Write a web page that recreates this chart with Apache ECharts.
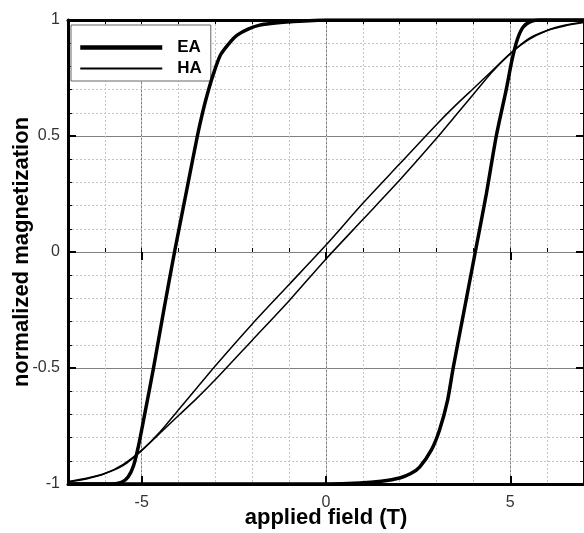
<!DOCTYPE html>
<html>
<head>
<meta charset="utf-8">
<script src="https://cdn.jsdelivr.net/npm/echarts@6/dist/echarts.min.js"></script>
<style>
  html, body { margin: 0; padding: 0; background: #fff; }
  #chart { width: 584px; height: 533px; }
</style>
</head>
<body>
<div id="chart"></div>
<script>
// easy axis loop, field going down then up
const eaDownField = [7, 0, -1, -1.5, -1.8, -2.1, -2.41, -2.6, -2.86, -3.05, -3.22, -3.35, -3.49, -3.8, -4.11, -4.4, -4.68, -4.92, -5.08, -5.22, -5.37, -5.55, -5.8, -7];
const eaDownM = [1, 1, 0.992, 0.985, 0.978, 0.962, 0.935, 0.905, 0.85, 0.77, 0.68, 0.6, 0.5, 0.25, 0, -0.25, -0.5, -0.7, -0.83, -0.92, -0.97, -0.993, -1, -1];
const eaUpField = [-7, 0, 0.92, 1.5, 2.0, 2.3, 2.54, 2.86, 3.08, 3.3, 3.45, 3.75, 4.05, 4.35, 4.62, 4.89, 5.05, 5.2, 5.35, 5.55, 5.8, 7];
const eaUpM = [-1, -1, -0.996, -0.988, -0.974, -0.955, -0.927, -0.853, -0.767, -0.638, -0.5, -0.25, 0, 0.25, 0.5, 0.7, 0.83, 0.92, 0.97, 0.993, 1, 1];

// hard axis loop
const haDownField = [7, 6.5, 6, 5.5, 5, 4.5, 4, 3.5, 3, 2, 1, 0, -1, -2, -3, -3.5, -4, -4.5, -5, -5.5, -6, -6.5, -7];
const haDownM = [0.99, 0.978, 0.955, 0.915, 0.855, 0.78, 0.705, 0.63, 0.55, 0.38, 0.21, 0.03, -0.14, -0.31, -0.49, -0.585, -0.68, -0.775, -0.855, -0.92, -0.955, -0.975, -0.99];
const haUpField = [-7, -6.5, -6, -5.5, -5, -4.5, -4, -3.5, -3, -2, -1, 0, 1, 2, 3, 3.5, 4, 4.5, 5, 5.5, 6, 6.5, 7];
const haUpM = [-0.99, -0.978, -0.955, -0.915, -0.855, -0.78, -0.705, -0.63, -0.55, -0.38, -0.21, -0.03, 0.14, 0.31, 0.49, 0.585, 0.68, 0.775, 0.855, 0.92, 0.955, 0.975, 0.99];

const fieldTicks = [-5, 0, 5];

const pairs = (xs, ys) => xs.map((x, i) => [x, ys[i]]);

const font = 'Liberation Sans, Arial, sans-serif';
const frame = { show: true, onZero: false, lineStyle: { color: '#000', width: 3 } };
const minorGrid = { show: true, lineStyle: { color: '#c4c4c4', type: [2, 2], width: 1 } };
const majorGrid = { show: true, lineStyle: { color: '#808080', width: 1 } };

const line = (name, data, width) => ({
    name: name,
    type: 'line',
    data: data,
    symbol: 'none',
    smooth: 0.25,
    xAxisIndex: 0,
    yAxisIndex: 0,
    lineStyle: { color: '#000', width: width },
    itemStyle: { color: '#000' },
    z: 5
});

const chart = echarts.init(document.getElementById('chart'));
chart.setOption({
    animation: false,
    grid: { left: 68, right: 0, top: 20, bottom: 49, outerBoundsMode: 'none' },
    legend: {
        orient: 'vertical',
        left: 71,
        top: 25,
        padding: [14, 9, 4, 7],
        itemGap: 4,
        itemWidth: 82,
        itemHeight: 18,
        backgroundColor: '#fff',
        borderColor: '#666',
        borderWidth: 1,
        borderRadius: 0,
        itemStyle: { opacity: 0 },
        data: [
            { name: 'EA', lineStyle: { width: 4.5, color: '#000' } },
            { name: 'HA', lineStyle: { width: 2, color: '#000' } }
        ],
        textStyle: { fontFamily: font, fontWeight: 'bold', fontSize: 17, color: '#000', padding: [0, 0, 0, 10] }
    },
    xAxis: [
        {
            type: 'value', position: 'bottom', min: -7, max: 7,
            name: 'applied field (T)', nameLocation: 'middle', nameGap: 23, nameMoveOverlap: false,
            nameTextStyle: { fontFamily: font, fontWeight: 'bold', fontSize: 22, color: '#000' },
            axisLine: frame,
            axisTick: { show: true, inside: true, length: 8, customValues: fieldTicks, lineStyle: { color: '#000', width: 2 } },
            axisLabel: { customValues: fieldTicks, fontFamily: font, fontSize: 16, color: '#333', margin: 11 },
            splitLine: majorGrid
        },
        {
            type: 'value', position: 'bottom', min: -7, max: 7, interval: 1,
            axisLine: { show: false },
            axisTick: { show: true, inside: true, length: 4, lineStyle: { color: '#000' } },
            axisLabel: { show: false },
            splitLine: minorGrid
        },
        {
            type: 'value', position: 'top', min: -7, max: 7, interval: 1,
            axisLine: frame,
            axisTick: { show: true, inside: true, length: 4, lineStyle: { color: '#000' } },
            axisLabel: { show: false },
            splitLine: { show: false }
        },
        {
            type: 'value', position: 'top', min: -7, max: 7,
            axisLine: { show: false },
            axisTick: { show: true, inside: true, length: 8, customValues: fieldTicks, lineStyle: { color: '#000', width: 2 } },
            axisLabel: { show: false },
            splitLine: { show: false }
        }
    ],
    yAxis: [
        {
            type: 'value', position: 'left', min: -1, max: 1, interval: 0.5,
            name: 'normalized magnetization', nameLocation: 'middle', nameGap: 35, nameMoveOverlap: false,
            nameTextStyle: { fontFamily: font, fontWeight: 'bold', fontSize: 22, color: '#000' },
            axisLine: frame,
            axisTick: { show: true, inside: true, length: 8, lineStyle: { color: '#000', width: 2 } },
            minorTick: { show: true, splitNumber: 5, length: 4, lineStyle: { color: '#000' } },
            axisLabel: { fontFamily: font, fontSize: 16, color: '#333', margin: 8 },
            splitLine: majorGrid,
            minorSplitLine: minorGrid
        },
        {
            type: 'value', position: 'right', min: -1, max: 1, interval: 0.5,
            axisLine: frame,
            axisTick: { show: true, inside: true, length: 8, lineStyle: { color: '#000', width: 2 } },
            minorTick: { show: true, splitNumber: 5, length: 4, lineStyle: { color: '#000' } },
            axisLabel: { show: false },
            splitLine: { show: false }
        }
    ],
    series: [
        line('EA', pairs(eaDownField, eaDownM), 3.5),
        line('EA', pairs(eaUpField, eaUpM), 3.5),
        line('HA', pairs(haDownField, haDownM), 1.5),
        line('HA', pairs(haUpField, haUpM), 1.5)
    ]
});
</script>
</body>
</html>
